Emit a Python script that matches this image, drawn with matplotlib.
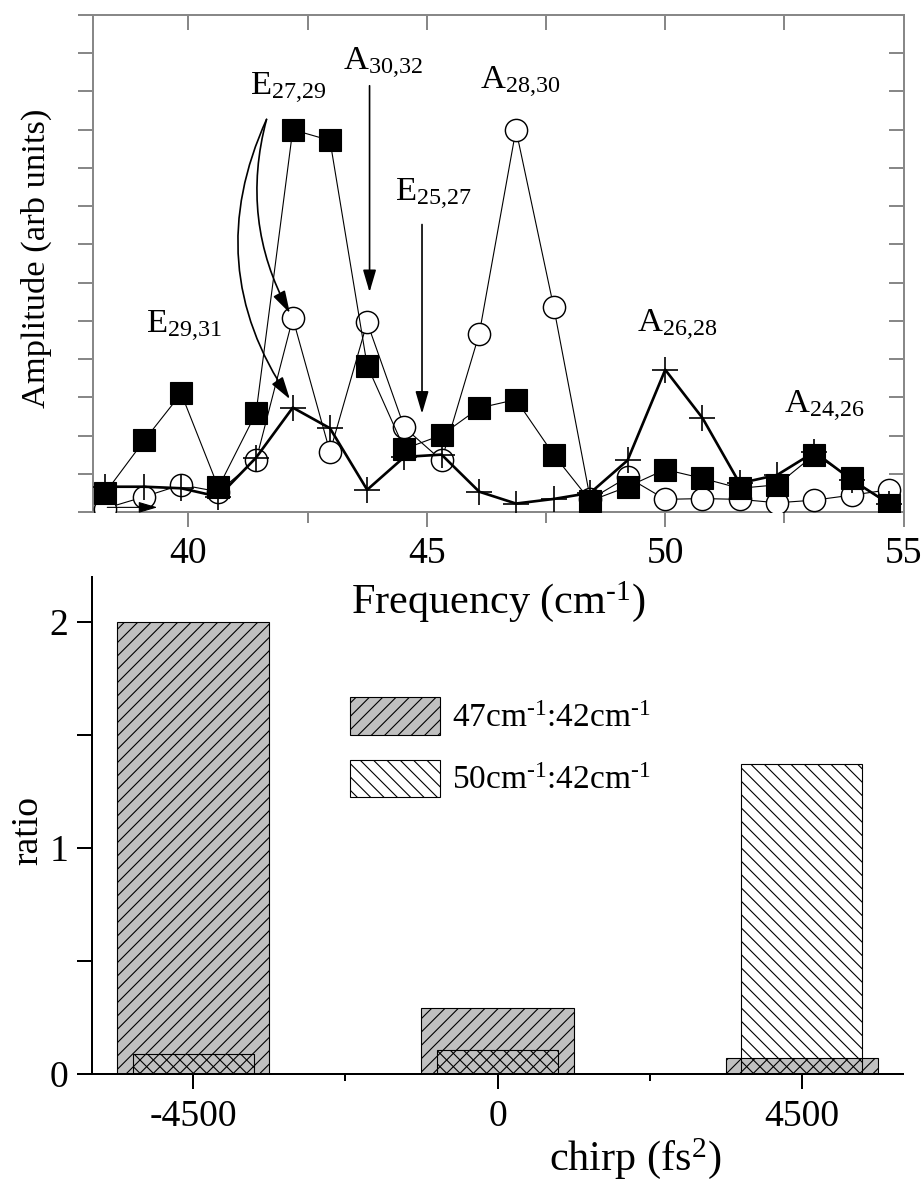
import matplotlib
matplotlib.use('Agg')
import matplotlib.pyplot as plt
from matplotlib.ticker import MultipleLocator

plt.rcParams['font.family'] = ['Liberation Serif', 'DejaVu Serif']
plt.rcParams['mathtext.fontset'] = 'custom'
plt.rcParams['mathtext.rm'] = 'Liberation Serif'
plt.rcParams['mathtext.default'] = 'regular'
plt.rcParams['axes.unicode_minus'] = False
plt.rcParams['hatch.linewidth'] = 1.0

# --- top panel: amplitude spectra ---
freq = [38.25, 39.08, 39.85, 40.63, 41.42, 42.19, 42.97, 43.75, 44.53, 45.31, 46.10,
        46.87, 47.66, 48.43, 49.21, 50.00, 50.78, 51.56, 52.35, 53.13, 53.91, 54.69]
amp_squares = [0.49, 1.88, 3.10, 0.64, 2.59, 10.0, 9.72, 3.83, 1.65, 2.01, 2.72,
               2.94, 1.50, 0.29, 0.66, 1.11, 0.88, 0.62, 0.71, 1.50, 0.88, 0.18]
amp_circles = [0.09, 0.40, 0.71, 0.53, 1.35, 5.07, 1.57, 4.96, 2.21, 1.35, 4.66,
               10.0, 5.37, 0.33, 0.91, 0.33, 0.35, 0.33, 0.24, 0.31, 0.44, 0.58]
amp_plus = [0.66, 0.66, 0.62, 0.40, 1.42, 2.73, 2.19, 0.58, 1.44, 1.50, 0.53,
            0.22, 0.34, 0.50, 1.35, 3.72, 2.46, 0.75, 0.97, 1.57, 0.84, 0.22]

# --- bottom panel: peak ratios vs chirp ---
chirp = [-4500, 0, 4500]
ratio_47_42 = [2.0, 0.29, 0.07]
ratio_50_42 = [0.09, 0.106, 1.37]

gray = '#888888'
fig = plt.figure(figsize=(11.55, 14.8), dpi=80)

# top axes
ax1 = fig.add_axes([0.1006, 0.5676, 0.8774, 0.4197])
ax1.plot(freq, amp_circles, '-o', color='k', lw=1.0, mfc='white', mec='k',
         ms=20, mew=1.3, zorder=3)
ax1.plot(freq, amp_squares, '-s', color='k', lw=1.0, ms=19, zorder=4)
ax1.plot(freq, amp_plus, '-+', color='k', lw=2.4, ms=24, mew=1.5, zorder=5)
ax1.set_xlim(38, 55)
ax1.set_ylim(0, 13)

ax1.set_xticks([40, 45, 50, 55])
ax1.xaxis.set_minor_locator(MultipleLocator(2.5))
ax1.set_yticks(range(0, 14))
ax1.set_yticklabels([])
ax1.tick_params(axis='x', which='major', direction='out', length=13.5, width=1.8,
                color=gray, labelsize=34, pad=9)
ax1.tick_params(axis='x', which='minor', direction='out', length=10, width=1.8, color=gray)
ax1.tick_params(axis='y', direction='out', length=13.5, width=1.8, color=gray)
for s in ax1.spines.values():
    s.set_color(gray)
    s.set_linewidth(1.8)

sec_r = ax1.secondary_yaxis('right')
sec_r.set_yticks(range(0, 14))
sec_r.set_yticklabels([])
sec_r.tick_params(direction='in', length=13.5, width=1.8, color=gray)
sec_r.spines['right'].set_color(gray)
sec_r.spines['right'].set_linewidth(1.8)

sec_t = ax1.secondary_xaxis('top')
sec_t.set_xticks([40, 42.5, 45, 47.5, 50, 52.5, 55])
sec_t.set_xticklabels([])
sec_t.tick_params(direction='in', length=13.5, width=1.8, color=gray)
sec_t.spines['top'].set_color(gray)
sec_t.spines['top'].set_linewidth(1.8)

ax1.set_xlabel(r'Frequency (cm$^{\text{-}1}$)', fontsize=38)
ax1.xaxis.set_label_coords(0.5, -0.135)
ax1.set_ylabel('Amplitude (arb units)', fontsize=31)
ax1.yaxis.set_label_coords(-0.05, 0.51)

lab_kw = dict(fontsize=31, ha='left', va='baseline')
ax1.text(39.11, 4.67, 'E$_{29{,}31}$', **lab_kw)
ax1.text(41.29, 10.9, 'E$_{27{,}29}$', **lab_kw)
ax1.text(43.24, 11.56, 'A$_{30{,}32}$', **lab_kw)
ax1.text(44.33, 8.12, 'E$_{25{,}27}$', **lab_kw)
ax1.text(46.11, 11.06, 'A$_{28{,}30}$', **lab_kw)
ax1.text(49.4, 4.69, 'A$_{26{,}28}$', **lab_kw)
ax1.text(52.5, 2.59, 'A$_{24{,}26}$', **lab_kw)

arrow = dict(arrowstyle='-|>,head_length=0.85,head_width=0.25', color='k', lw=1.5,
             shrinkA=0, shrinkB=0, mutation_scale=20)
ax1.annotate('', xy=(43.8, 5.75), xytext=(43.8, 11.15), arrowprops=arrow)
ax1.annotate('', xy=(44.9, 2.57), xytext=(44.9, 7.52), arrowprops=arrow)
ax1.annotate('', xy=(42.13, 5.2), xytext=(41.64, 10.27),
             arrowprops=dict(arrow, connectionstyle='arc3,rad=0.2'))
ax1.annotate('', xy=(42.13, 2.95), xytext=(41.64, 10.27),
             arrowprops=dict(arrow, connectionstyle='arc3,rad=0.28'))
ax1.annotate('', xy=(39.35, 0.12), xytext=(38.3, 0.12),
             arrowprops=dict(arrow, lw=1.0, mutation_scale=17), annotation_clip=False)

# bottom axes
ax2 = fig.add_axes([0.0996, 0.0929, 0.8777, 0.4198])
ax2.patch.set_visible(False)
ax2.bar(chirp, ratio_47_42, width=2250, color='#c0c0c0', edgecolor='k', hatch='//',
        lw=1.0, label=r'47cm$^{\text{-}1}$:42cm$^{\text{-}1}$', zorder=2)
ax2.bar(chirp, ratio_50_42, width=1800, facecolor='none', edgecolor='k', hatch='\\\\',
        lw=1.0, label=r'50cm$^{\text{-}1}$:42cm$^{\text{-}1}$', zorder=3)
ax2.set_xlim(-6000, 6000)
ax2.set_ylim(0, 2.2)
ax2.spines['top'].set_visible(False)
ax2.spines['right'].set_visible(False)
for s in ('left', 'bottom'):
    ax2.spines[s].set_linewidth(1.8)
ax2.set_yticks([0, 0.5, 1, 1.5, 2])
ax2.set_yticklabels(['0', '', '1', '', '2'])
ax2.set_xticks(chirp)
ax2.set_xticklabels(['-4500', '0', '4500'])
ax2.set_xticks([-2250, 2250], minor=True)
ax2.tick_params(axis='y', direction='out', length=13.5, width=1.8, labelsize=34, pad=8)
ax2.tick_params(axis='x', which='major', direction='out', length=13.5, width=1.8,
                labelsize=34, pad=9)
ax2.tick_params(axis='x', which='minor', direction='out', length=6.5, width=1.8)

ax2.set_xlabel(r'chirp (fs$^{2}$)', fontsize=38)
ax2.xaxis.set_label_coords(0.67, -0.125)
ax2.set_ylabel('ratio', fontsize=34)
ax2.yaxis.set_label_coords(-0.058, 0.49)

ax2.legend(loc='upper left', bbox_to_anchor=(0.318, 0.758), frameon=False, fontsize=30,
           handlelength=2.7, handleheight=1.35, handletextpad=0.36, labelspacing=0.75,
           borderaxespad=0, borderpad=0)

fig.savefig('out.png', dpi=80)
